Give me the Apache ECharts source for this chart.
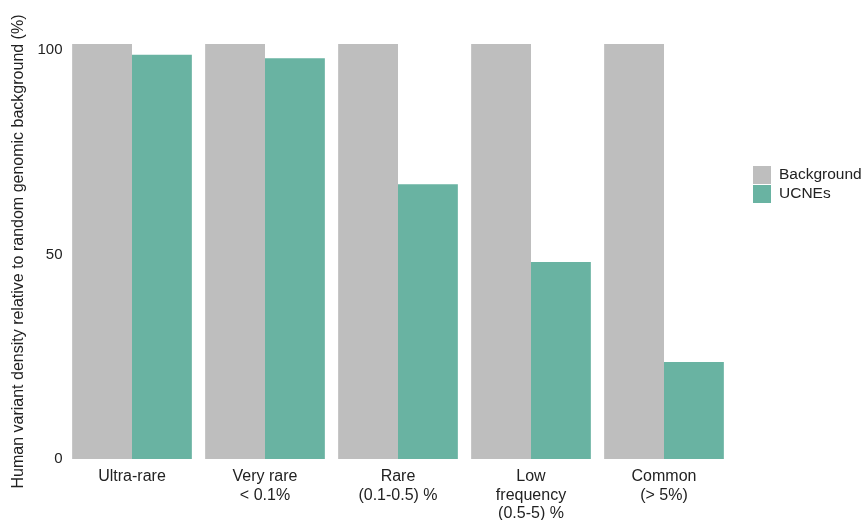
<!DOCTYPE html>
<html>
<head>
<meta charset="utf-8">
<script src="https://cdn.jsdelivr.net/npm/echarts@6/dist/echarts.min.js"></script>
<style>html,body{margin:0;padding:0;background:#fff;}#c{width:864px;height:520px;}</style>
</head>
<body>
<div id="c"></div>
<script>
const categories = ['Ultra-rare', 'Very rare\n< 0.1%', 'Rare\n(0.1-0.5) %', 'Low\nfrequency\n(0.5-5) %', 'Common\n(> 5%)'];
const backgroundValues = [101.5, 101.5, 101.5, 101.5, 101.5];
const ucneValues = [98.9, 98.0, 67.2, 48.2, 23.7];
const yTicks = [0, 50, 100];

const chart = echarts.init(document.getElementById('c'));
chart.setOption({
  animation: false,
  textStyle: { fontFamily: 'Liberation Sans, Arial, sans-serif' },
  grid: { left: 65.5, right: 133.5, top: 44, bottom: 61, containLabel: false, outerBoundsMode: 'none' },
  legend: {
    orient: 'vertical',
    left: 748, top: 161,
    itemWidth: 18, itemHeight: 18, itemGap: 1,
    icon: 'rect',
    textStyle: { fontSize: 15.5, color: '#222', padding: [0, 0, 0, 3] },
    data: ['Background', 'UCNEs']
  },
  xAxis: {
    type: 'category',
    data: categories,
    axisLine: { show: false },
    axisTick: { show: false },
    axisLabel: { fontSize: 16, color: '#222', lineHeight: 18.5, margin: 8.5 }
  },
  yAxis: {
    type: 'value',
    min: 0, max: 101.5, interval: 50,
    splitLine: { show: false },
    axisLine: { show: false },
    axisTick: { show: false },
    axisLabel: {
      fontSize: 15, color: '#222', margin: 3,
      formatter: v => yTicks.includes(v) ? String(v) : ''
    },
    name: 'Human variant density relative to random genomic background (%)',
    nameLocation: 'middle',
    nameGap: 35.5,
    nameTextStyle: { fontSize: 16, color: '#222' }
  },
  series: [
    { name: 'Background', type: 'bar', data: backgroundValues, barGap: '0%', barCategoryGap: '10%', itemStyle: { color: '#bebebe' } },
    { name: 'UCNEs', type: 'bar', data: ucneValues, barGap: '0%', barCategoryGap: '10%', itemStyle: { color: '#69b3a2' } }
  ]
});
</script>
</body>
</html>
